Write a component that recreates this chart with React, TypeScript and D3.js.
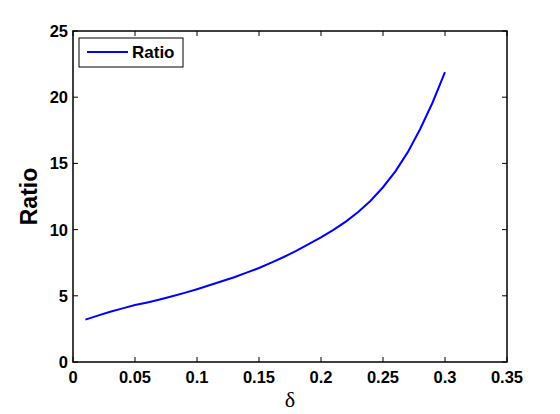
import { scaleLinear, line } from 'd3'

const width = 560,
      height = 414,
      margin = { top: 31, right: 53, bottom: 52, left: 73 },
      innerWidth = width - (margin.left + margin.right),
      innerHeight = height - (margin.top + margin.bottom)

// delta values and the ratio
const deltas = [0.01, 0.02, 0.03, 0.04, 0.05, 0.06, 0.07, 0.08, 0.09, 0.10,
  0.11, 0.12, 0.13, 0.14, 0.15, 0.16, 0.17, 0.18, 0.19, 0.20,
  0.21, 0.22, 0.23, 0.24, 0.25, 0.26, 0.27, 0.28, 0.29, 0.30]
const ratios = [3.2, 3.5, 3.8, 4.05, 4.3, 4.5, 4.72, 4.96, 5.22, 5.5,
  5.8, 6.1, 6.4, 6.75, 7.1, 7.5, 7.93, 8.4, 8.9, 9.42,
  9.98, 10.6, 11.33, 12.18, 13.2, 14.4, 15.85, 17.6, 19.6, 21.9]
const xTicks = [0, 0.05, 0.1, 0.15, 0.2, 0.25, 0.3, 0.35]
const yTicks = [0, 5, 10, 15, 20, 25]
const seriesName = 'Ratio'

const font = 'Liberation Sans, Arial, Helvetica, sans-serif'

export default function App() {
  const x = scaleLinear().domain([0, 0.35]).range([0, innerWidth])
  const y = scaleLinear().domain([0, 25]).range([innerHeight, 0])

  const path = line<number>()
    .x((d, i) => x(deltas[i]))
    .y(d => y(d))(ratios)

  const tick = 5

  return (
    <svg width={width} height={height} style={{ position: 'absolute', left: 0, top: 0, background: '#fff' }}>
      <g transform={`translate(${margin.left}, ${margin.top})`}>
        <path d={path ?? ''} stroke='#0000ff' strokeWidth={2} fill='none' />
        <rect x={0} y={0} width={innerWidth} height={innerHeight} fill='none' stroke='#000' strokeWidth={1.5} />

        {xTicks.map(t => (
          <g key={'x' + t}>
            <line x1={x(t)} x2={x(t)} y1={innerHeight} y2={innerHeight - tick} stroke='#000' />
            <line x1={x(t)} x2={x(t)} y1={0} y2={tick} stroke='#000' />
            <text x={x(t)} y={innerHeight + 21} textAnchor='middle' fontFamily={font}
              fontWeight='bold' fontSize={16.5}>{String(t)}</text>
          </g>
        ))}

        {yTicks.map(t => (
          <g key={'y' + t}>
            <line x1={0} x2={tick} y1={y(t)} y2={y(t)} stroke='#000' />
            <line x1={innerWidth} x2={innerWidth - tick} y1={y(t)} y2={y(t)} stroke='#000' />
            <text x={-5} y={y(t) + 6} textAnchor='end' fontFamily={font}
              fontWeight='bold' fontSize={16.5}>{t}</text>
          </g>
        ))}

        {/* legend */}
        <g transform='translate(6, 7)'>
          <rect x={0} y={0} width={104} height={29} fill='#fff' stroke='#000' strokeWidth={1} />
          <line x1={8} x2={49} y1={14} y2={14} stroke='#0000ff' strokeWidth={2} />
          <text x={53} y={20} fontFamily={font} fontWeight='bold' fontSize={17}>{seriesName}</text>
        </g>

        <text x={innerWidth / 2} y={innerHeight + 45} textAnchor='middle'
          fontFamily='Liberation Serif, Times New Roman, serif' fontSize={22}>δ</text>
        <text transform={`translate(-36, ${innerHeight / 2}) rotate(-90)`} textAnchor='middle'
          fontFamily={font} fontWeight='bold' fontSize={23}>Ratio</text>
      </g>
    </svg>
  )
}
